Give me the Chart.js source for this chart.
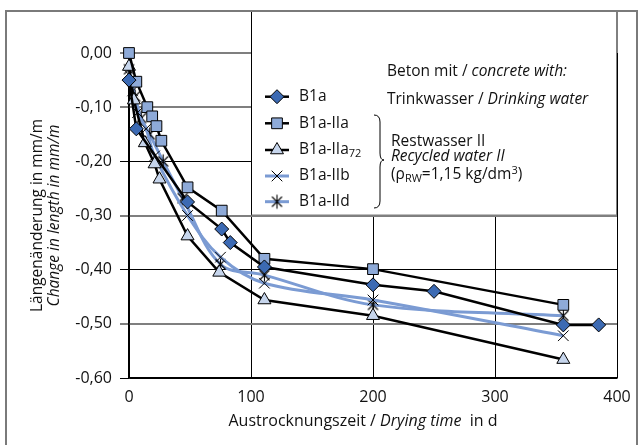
<!DOCTYPE html>
<html>
<head>
<meta charset="utf-8">
<script src="https://cdn.jsdelivr.net/npm/chart.js@4/dist/chart.umd.min.js"></script>
<style>
body{margin:0;background:#fff;}
canvas{display:block;}
</style>
</head>
<body>
<canvas id="shrinkChart" width="643" height="445"></canvas>
<script>
// series names (subscript part kept apart for the legend)
var seriesNames = ['B1a', 'B1a-IIa', 'B1a-IIa', 'B1a-IIb', 'B1a-IId'];
var seriesSub = ['', '', '72', '', ''];

// drying time in d / change in length in mm/m
var daysB1a = [0, 6, 48, 76, 83, 111, 200, 250, 356, 385];
var lenB1a = [-0.05, -0.14, -0.275, -0.325, -0.35, -0.395, -0.428, -0.44, -0.502, -0.502];

var daysIIa = [0, 6, 15, 19, 22.5, 26.5, 48, 76, 111, 200, 356];
var lenIIa = [0, -0.053, -0.10, -0.117, -0.135, -0.162, -0.248, -0.291, -0.38, -0.399, -0.465];

var daysIIa72 = [0, 4, 13, 21, 25, 48, 74, 111, 200, 356];
var lenIIa72 = [-0.025, -0.087, -0.166, -0.205, -0.233, -0.338, -0.405, -0.456, -0.485, -0.566];

var daysIIb = [0, 3, 7, 14, 21, 48, 75, 111, 200, 356];
var lenIIb = [-0.04, -0.07, -0.11, -0.14, -0.19, -0.30, -0.377, -0.425, -0.456, -0.522];

var daysIId = [0, 5, 10, 17, 28, 44, 75, 111, 200, 356];
var lenIId = [-0.03, -0.08, -0.12, -0.15, -0.20, -0.268, -0.39, -0.41, -0.465, -0.485];

var xTicks = [0, 100, 200, 300, 400];
var xTickLabels = ['0', '100', '200', '300', '400'];
var yTicks = [-0.6, -0.5, -0.4, -0.3, -0.2, -0.1, 0];
var yTickLabels = ['-0,60', '-0,50', '-0,40', '-0,30', '-0,20', '-0,10', '0,00'];

var FONT = '"Open Sans", sans-serif';

function pairs(xs, ys){
    var out = [];
    for(var i = 0; i < xs.length; i++){
        out.push({x: xs[i], y: ys[i]});
    }
    return out;
}

// asterisk marker: vertical stroke plus an x
function starMarker(){
    var c = document.createElement('canvas');
    c.width = 17; c.height = 17;
    var g = c.getContext('2d');
    g.strokeStyle = '#000';
    g.lineWidth = 1.1;
    g.beginPath();
    g.moveTo(8.5, 1.5); g.lineTo(8.5, 15.5);
    g.moveTo(3.5, 3.5); g.lineTo(13.5, 13.5);
    g.moveTo(13.5, 3.5); g.lineTo(3.5, 13.5);
    g.stroke();
    return c;
}
var star = starMarker();

var datasets = [
    {label: seriesNames[0], data: pairs(daysB1a, lenB1a), borderColor: '#000', borderWidth: 2.5,
        pointStyle: 'rectRot', pointRadius: 7, backgroundColor: '#3c6ab3', pointBorderColor: '#000', pointBorderWidth: 1},
    {label: seriesNames[1], data: pairs(daysIIa, lenIIa), borderColor: '#000', borderWidth: 2.5,
        pointStyle: 'rect', pointRadius: 7.6, backgroundColor: '#8eaad8', pointBorderColor: '#000', pointBorderWidth: 1},
    {label: seriesNames[2], data: pairs(daysIIa72, lenIIa72), borderColor: '#000', borderWidth: 2.5,
        pointStyle: 'triangle', pointRadius: 7.5, backgroundColor: '#c6d5ec', pointBorderColor: '#000', pointBorderWidth: 1},
    {label: seriesNames[3], data: pairs(daysIIb, lenIIb), borderColor: '#7b9bd3', borderWidth: 3, tension: 0.35,
        pointStyle: 'crossRot', pointRadius: 7.5, backgroundColor: '#000', pointBorderColor: '#000', pointBorderWidth: 1},
    {label: seriesNames[4], data: pairs(daysIId, lenIId), borderColor: '#7b9bd3', borderWidth: 3, tension: 0.35,
        pointStyle: star, pointRadius: 8, backgroundColor: '#000', pointBorderColor: '#000', pointBorderWidth: 1}
];
// draw in reverse so B1a sits on top
datasets.forEach(function(d, i){ d.order = i; d.clip = false; d.showLine = true; d.fill = false; });

function runs(ctx, parts, x, y, align){
    var total = 0, i;
    for(i = 0; i < parts.length; i++){
        ctx.font = (parts[i].it ? 'italic ' : '') + (parts[i].size || 15.5) + 'px ' + FONT;
        parts[i].w = ctx.measureText(parts[i].t).width;
        total += parts[i].w;
    }
    var cx = align == 'center' ? x - total / 2 : x;
    ctx.textAlign = 'left';
    ctx.textBaseline = 'middle';
    for(i = 0; i < parts.length; i++){
        ctx.font = (parts[i].it ? 'italic ' : '') + (parts[i].size || 15.5) + 'px ' + FONT;
        ctx.fillText(parts[i].t, cx, y + (parts[i].dy || 0));
        cx += parts[i].w;
    }
}

var decor = {
    id: 'decor',
    beforeDatasetsDraw: function(chart){
        var ctx = chart.ctx, xs = chart.scales.x, ys = chart.scales.y;
        var l = Math.round(xs.getPixelForValue(100)) + 0.5;
        var r = chart.chartArea.right;
        var b = ys.getPixelForValue(-0.3);
        ctx.save();
        ctx.fillStyle = '#fff';
        ctx.fillRect(l, 11, r - l, b - 11);
        ctx.strokeStyle = '#000';
        ctx.lineWidth = 1;
        ctx.beginPath();
        ctx.moveTo(l, 11); ctx.lineTo(l, b);
        ctx.moveTo(r, 11); ctx.lineTo(r, b);
        ctx.stroke();
        ctx.strokeStyle = '#808080';
        ctx.lineWidth = 2;
        ctx.beginPath();
        ctx.moveTo(l, b); ctx.lineTo(r, b);
        ctx.stroke();
        ctx.restore();
    },
    afterDraw: function(chart){
        var ctx = chart.ctx, area = chart.chartArea;
        ctx.save();
        ctx.fillStyle = '#111';

        // legend entries
        var ly = [96.7, 123.3, 150, 176, 201.7];
        chart.data.datasets.forEach(function(ds, i){
            var y = ly[i];
            ctx.strokeStyle = ds.borderColor;
            ctx.lineWidth = ds.borderWidth;
            ctx.beginPath();
            ctx.moveTo(265, y); ctx.lineTo(289, y);
            ctx.stroke();
            ctx.fillStyle = ds.backgroundColor;
            ctx.strokeStyle = '#000';
            ctx.lineWidth = 1;
            Chart.helpers.drawPoint(ctx, {pointStyle: ds.pointStyle, radius: ds.pointRadius, rotation: 0, borderWidth: 1}, 277, y);
            ctx.fillStyle = '#111';
            var parts = [{t: seriesNames[i]}];
            if(seriesSub[i]) parts.push({t: seriesSub[i], size: 11, dy: 4});
            runs(ctx, parts, 299, y, 'left');
        });

        runs(ctx, [{t: 'Beton mit / '}, {t: 'concrete with:', it: true}], 387, 71.7, 'left');
        runs(ctx, [{t: 'Trinkwasser / '}, {t: 'Drinking water', it: true}], 387, 99.3, 'left');
        runs(ctx, [{t: 'Restwasser II'}], 391, 141.7, 'left');
        runs(ctx, [{t: 'Recycled water II', it: true}], 391, 157, 'left');
        runs(ctx, [{t: '(\u03c1'}, {t: 'RW', size: 11, dy: 4}, {t: '=1,15 kg/dm'}, {t: '3', size: 11, dy: -4}, {t: ')'}], 391, 175, 'left');

        // brace
        ctx.strokeStyle = '#000';
        ctx.lineWidth = 1;
        ctx.beginPath();
        ctx.moveTo(374, 115);
        ctx.quadraticCurveTo(380, 115, 380, 122);
        ctx.lineTo(380, 153);
        ctx.quadraticCurveTo(380, 160, 384, 160);
        ctx.quadraticCurveTo(380, 160, 380, 167);
        ctx.lineTo(380, 201);
        ctx.quadraticCurveTo(380, 208, 374, 208);
        ctx.stroke();

        // axis titles
        var cy = (area.top + area.bottom) / 2;
        ctx.save();
        ctx.translate(38, cy);
        ctx.rotate(-Math.PI / 2);
        runs(ctx, [{t: 'L\u00e4ngen\u00e4nderung in mm/m', size: 15.5}], 0, 0, 'center');
        runs(ctx, [{t: 'Change in length in mm/m', size: 15.5, it: true}], 0, 17, 'center');
        ctx.restore();
        runs(ctx, [{t: 'Austrocknungszeit / ', size: 16}, {t: 'Drying time', size: 16, it: true}, {t: '  in d', size: 16}], 363, 421, 'center');

        // outer frame
        ctx.strokeStyle = '#7a7a7a';
        ctx.lineWidth = 2;
        ctx.strokeRect(6, 11, 631, 440);
        ctx.restore();
    }
};

new Chart(document.getElementById('shrinkChart'), {
    type: 'scatter',
    data: {datasets: datasets},
    options: {
        responsive: false,
        animation: false,
        devicePixelRatio: 1,
        layout: {padding: {top: 53, right: 26, left: 0, bottom: 0}},
        plugins: {legend: {display: false}, tooltip: {enabled: false}},
        scales: {
            x: {
                type: 'linear', min: 0, max: 400,
                afterFit: function(s){ s.height = 67; },
                afterBuildTicks: function(s){ s.ticks = xTicks.map(function(v){ return {value: v}; }); },
                ticks: {
                    color: '#111', padding: 10,
                    font: {family: FONT, size: 16},
                    callback: function(v, i){ return xTickLabels[i]; }
                },
                grid: {color: '#000', lineWidth: 1, drawTicks: false},
                border: {color: '#000', width: 1.5}
            },
            y: {
                type: 'linear', min: -0.6, max: 0,
                afterFit: function(s){ s.width = 129; },
                afterBuildTicks: function(s){ s.ticks = yTicks.map(function(v){ return {value: v}; }); },
                ticks: {
                    color: '#111', padding: 8,
                    font: {family: FONT, size: 16},
                    callback: function(v, i){ return yTickLabels[i]; }
                },
                grid: {
                    color: function(c){
                        var k = Math.round(Math.abs(c.tick.value) * 10);
                        return (k % 2 == 1 || k == 0) ? '#7f7f7f' : '#000';
                    },
                    lineWidth: function(c){
                        var k = Math.round(Math.abs(c.tick.value) * 10);
                        return (k % 2 == 1 || k == 0) ? 2 : 1;
                    },
                    tickLength: 9
                },
                border: {color: '#000', width: 1.5}
            }
        }
    },
    plugins: [decor]
});
</script>
</body>
</html>
